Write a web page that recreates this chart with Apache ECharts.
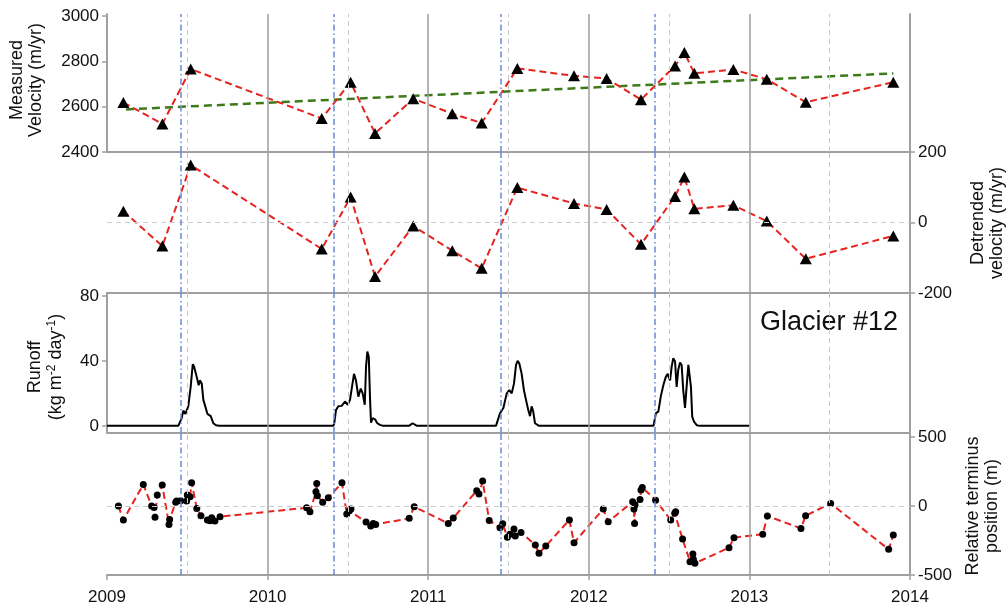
<!DOCTYPE html>
<html>
<head>
<meta charset="utf-8">
<script src="https://cdn.jsdelivr.net/npm/echarts@6/dist/echarts.min.js"></script>
<style>
  html, body { margin: 0; padding: 0; background: #fff; }
  #chart { width: 1008px; height: 612px; }
</style>
</head>
<body>
<div id="chart"></div>
<script>
// ---- Data (decimal years) ----
const yearTicks = [2009, 2010, 2011, 2012, 2013, 2014];
const yearLines = [2010, 2011, 2012, 2013];
const midYearLines = [2009.5, 2010.5, 2011.5, 2012.5, 2013.5];
const meltOnset = [2009.459, 2010.413, 2011.447, 2012.406];

// Measured surface velocity (m/yr) and its detrended version
const velT = [2009.102, 2009.345, 2009.521, 2010.337, 2010.517, 2010.669, 2010.907, 2011.150, 2011.333, 2011.555,
              2011.908, 2012.111, 2012.325, 2012.537, 2012.595, 2012.657, 2012.900, 2013.108, 2013.351, 2013.896];
const velV = [2618, 2524, 2766, 2548, 2708, 2482, 2635, 2569, 2528, 2769,
              2736, 2724, 2631, 2780, 2839, 2747, 2764, 2721, 2620, 2708];
const detV = [32, -67, 163, -75, 72, -153, -10, -80, -130, 99,
              54, 37, -62, 74, 129, 39, 49, 4, -103, -38];

// Linear trend through the velocity record
const trendT = [2009.118, 2013.896];
const trendV = [2588, 2747];

// Modelled daily surface runoff (kg m-2 day-1)
const runoffT = [
  2009.000, 2009.444, 2009.465, 2009.475, 2009.488, 2009.506, 2009.521, 2009.534, 2009.542, 2009.554, 2009.562,
  2009.571, 2009.578, 2009.590, 2009.600, 2009.612, 2009.625, 2009.646, 2009.662, 2009.679, 2009.700,
  2010.409, 2010.415, 2010.426, 2010.440, 2010.461, 2010.482, 2010.499, 2010.513, 2010.538, 2010.550, 2010.565,
  2010.580, 2010.592, 2010.605, 2010.613, 2010.621, 2010.630, 2010.638, 2010.644, 2010.654, 2010.669, 2010.683,
  2010.700, 2010.720,
  2010.880, 2010.903, 2010.930,
  2011.422, 2011.447, 2011.468, 2011.489, 2011.505, 2011.520, 2011.534, 2011.547, 2011.557, 2011.567, 2011.582,
  2011.596, 2011.609, 2011.623, 2011.634, 2011.644, 2011.654, 2011.665, 2011.676, 2011.690,
  2012.403, 2012.406, 2012.418, 2012.433, 2012.448, 2012.464, 2012.479, 2012.491, 2012.506, 2012.516, 2012.526,
  2012.537, 2012.547, 2012.557, 2012.568, 2012.578, 2012.588, 2012.599, 2012.609, 2012.620, 2012.628, 2012.636,
  2012.644, 2012.655, 2012.672, 2012.690, 2013.000
];
const runoffV = [
  0, 0, 4.7, 9.4, 7.4, 12, 24, 38, 36.5, 32, 31,
  25, 28, 26, 16, 12, 7.4, 6, 1.6, 0.4, 0,
  0, 1.6, 9.8, 12, 12.3, 15, 13, 16, 32, 28, 18,
  23, 20, 13, 36.5, 45.7, 42.6, 16, 2, 4.7, 4, 1.6,
  0.6, 0,
  0, 1.6, 0,
  0, 7.8, 11, 20, 22, 20, 26, 37.5, 40, 38.5, 32,
  22, 16, 9.8, 6, 12, 8.8, 1.6, 0.4, 0,
  0, 1.6, 7.8, 8.8, 18, 25, 30, 32, 28, 36.5, 41.7,
  39.6, 24, 34.5, 39, 37.5, 22, 11, 24, 37.5, 38, 24,
  5.7, 2.6, 0.4, 0, 0
];

// Relative terminus position (m)
const termT = [
  2009.071, 2009.102, 2009.226, 2009.278, 2009.293, 2009.299, 2009.313, 2009.344, 2009.386, 2009.390,
  2009.428, 2009.434, 2009.459, 2009.496, 2009.500, 2009.517, 2009.527, 2009.559, 2009.585, 2009.625,
  2009.641, 2009.652, 2009.672, 2009.704,
  2010.243, 2010.264, 2010.301, 2010.306, 2010.310, 2010.343, 2010.378, 2010.463, 2010.493, 2010.509,
  2010.519, 2010.613, 2010.642, 2010.658, 2010.673, 2010.882, 2010.913,
  2011.125, 2011.156, 2011.302, 2011.316, 2011.339, 2011.380, 2011.447, 2011.464, 2011.493, 2011.509,
  2011.534, 2011.542, 2011.578, 2011.667, 2011.690, 2011.732, 2011.879, 2011.908,
  2012.090, 2012.121, 2012.273, 2012.281, 2012.285, 2012.288, 2012.319, 2012.325, 2012.333, 2012.416,
  2012.510, 2012.535, 2012.541, 2012.584, 2012.630, 2012.648, 2012.651, 2012.661, 2012.873, 2012.904,
  2013.083, 2013.112, 2013.321, 2013.350, 2013.506, 2013.867, 2013.896
];
const termV = [
  0, -101, 157, 0, -10, -82, 80, 152, -133, -97,
  27, 36, 39, 36, 80, 68, 169, -17, -70, -101,
  -106, -84, -109, -77,
  -12, -41, 104, 164, 75, 27, 60, 169, -58, -34,
  -22, -116, -145, -126, -133, -89, -5,
  -126, -87, 111, 87, 181, -104, -157, -128, -227, -205,
  -167, -217, -191, -283, -343, -290, -101, -266,
  -22, -114, 31, -22, -126, 7, 48, 116, 135, 43,
  -101, -53, -41, -239, -403, -348, -386, -415, -302, -229,
  -205, -72, -162, -70, 19, -314, -210
];

// ---- Styling ----
const FONT = '"Liberation Sans", Arial, Helvetica, sans-serif';
const FRAME = '#a0a0a0';
const RED = '#e5231f';
const GREEN = '#3c7a1a';
const BLUE = '#6f90d8';

const pair = (ts, vs) => ts.map((t, i) => [t, vs[i]]);

const panels = [
  { top: 14, height: 138 },
  { top: 152, height: 141 },
  { top: 293, height: 140 },
  { top: 433, height: 142 }
];

const grid = panels.map(p => ({ left: 107, width: 803, top: p.top, height: p.height }));

const xAxis = panels.map((p, i) => ({
  gridIndex: i,
  type: 'value',
  min: 2009, max: 2014, interval: 1,
  axisLine: { show: true, onZero: false, lineStyle: { color: FRAME, width: 2 } },
  axisTick: { show: i === 3, length: 5, lineStyle: { color: FRAME, width: 1.5 } },
  axisLabel: { show: i === 3, margin: 14, color: '#111', fontSize: 17, fontFamily: FONT,
               customValues: yearTicks, formatter: v => String(v) },
  splitLine: { show: false }
}));

function valueAxis(gi, pos, min, max, ticks, labelled) {
  return {
    gridIndex: gi, type: 'value', position: pos, min: min, max: max,
    axisLine: { show: true, onZero: false, lineStyle: { color: FRAME, width: 2 } },
    axisTick: { show: labelled, length: 5, customValues: ticks, lineStyle: { color: FRAME, width: 1.5 } },
    axisLabel: { show: labelled, customValues: ticks, margin: 8, color: '#111', fontSize: 17, fontFamily: FONT,
                 formatter: v => String(v) },
    splitLine: { show: false }
  };
}

const yAxis = [
  valueAxis(0, 'left', 2400, 3009, [2400, 2600, 2800, 3000], true),   // 0
  valueAxis(0, 'right', 2400, 3009, [], false),                        // 1
  valueAxis(1, 'right', -200, 200, [-200, 0, 200], true),              // 2
  valueAxis(2, 'left', -4.4, 81.8, [0, 40, 80], true),                 // 3
  valueAxis(2, 'right', -4.4, 81.8, [], false),                        // 4
  valueAxis(3, 'right', -500, 530, [-500, 0, 500], true)               // 5
];

// Reference lines: calendar years, mid-years, melt-season onset, zero lines
function guides(gi, yi, zeroLine) {
  const d = [];
  yearLines.forEach(x => d.push({ xAxis: x, lineStyle: { color: '#9c9c9c', width: 1.5, type: 'solid' } }));
  midYearLines.forEach(x => d.push({ xAxis: x, lineStyle: { color: '#c9c9c9', width: 1, type: [5, 4] } }));
  if (zeroLine) d.push({ yAxis: 0, lineStyle: { color: '#cccccc', width: 1, type: [5, 4] } });
  meltOnset.forEach(x => d.push({ xAxis: x, lineStyle: { color: BLUE, width: 1.6, type: [6, 3, 1.5, 3] } }));
  return {
    type: 'line', xAxisIndex: gi, yAxisIndex: yi, data: [], silent: true, z: 1,
    markLine: { symbol: 'none', silent: true, animation: false, label: { show: false }, data: d }
  };
}

const series = [
  guides(0, 0, false),
  guides(1, 2, true),
  guides(2, 3, false),
  guides(3, 5, true),
  {
    name: 'Trend', type: 'line', xAxisIndex: 0, yAxisIndex: 0, z: 3,
    data: pair(trendT, trendV), symbol: 'none',
    lineStyle: { color: GREEN, width: 2.5, type: [8, 5] }
  },
  {
    name: 'Measured velocity', type: 'line', xAxisIndex: 0, yAxisIndex: 0, z: 4,
    data: pair(velT, velV), symbol: 'triangle', symbolSize: [12, 11],
    itemStyle: { color: '#000' }, lineStyle: { color: RED, width: 2, type: [7, 4] }
  },
  {
    name: 'Detrended velocity', type: 'line', xAxisIndex: 1, yAxisIndex: 2, z: 4,
    data: pair(velT, detV), symbol: 'triangle', symbolSize: [12, 11],
    itemStyle: { color: '#000' }, lineStyle: { color: RED, width: 2, type: [7, 4] }
  },
  {
    name: 'Runoff', type: 'line', xAxisIndex: 2, yAxisIndex: 3, z: 4,
    data: pair(runoffT, runoffV), symbol: 'none',
    lineStyle: { color: '#000', width: 2 }
  },
  {
    name: 'Terminus', type: 'line', xAxisIndex: 3, yAxisIndex: 5, z: 4,
    data: pair(termT, termV), symbol: 'circle', symbolSize: 7,
    itemStyle: { color: '#000' }, lineStyle: { color: RED, width: 2, type: [7, 4] }
  }
];

const titleStyle = { fontFamily: FONT, fontSize: 18, fill: '#111', align: 'center', verticalAlign: 'middle', lineHeight: 19 };

const graphic = [
  { type: 'text', x: 27, y: 80, rotation: Math.PI / 2,
    style: Object.assign({}, titleStyle, { text: 'Measured\nVelocity (m/yr)' }) },
  { type: 'text', x: 46, y: 367, rotation: Math.PI / 2,
    style: Object.assign({}, titleStyle, {
      text: '{n|Runoff}\n{n|(kg m}{s|-2}{n| day}{s|-1}{n|)}',
      rich: {
        n: { fontFamily: FONT, fontSize: 18, fill: '#111', lineHeight: 21, verticalAlign: 'middle' },
        s: { fontFamily: FONT, fontSize: 12, fill: '#111', lineHeight: 21, verticalAlign: 'top' }
      }
    }) },
  { type: 'text', x: 988, y: 223, rotation: Math.PI / 2,
    style: Object.assign({}, titleStyle, { text: 'Detrended\nvelocity (m/yr)' }) },
  { type: 'text', x: 983, y: 506, rotation: Math.PI / 2,
    style: Object.assign({}, titleStyle, { text: 'Relative terminus\nposition (m)' }) },
  { type: 'text', x: 760, y: 323,
    style: { text: 'Glacier #12', fontFamily: FONT, fontSize: 27, fill: '#111', align: 'left', verticalAlign: 'middle' } }
];

const chart = echarts.init(document.getElementById('chart'), null, { renderer: 'canvas' });
chart.setOption({
  backgroundColor: '#ffffff',
  animation: false,
  grid: grid,
  xAxis: xAxis,
  yAxis: yAxis,
  series: series,
  graphic: graphic
});
</script>
</body>
</html>
